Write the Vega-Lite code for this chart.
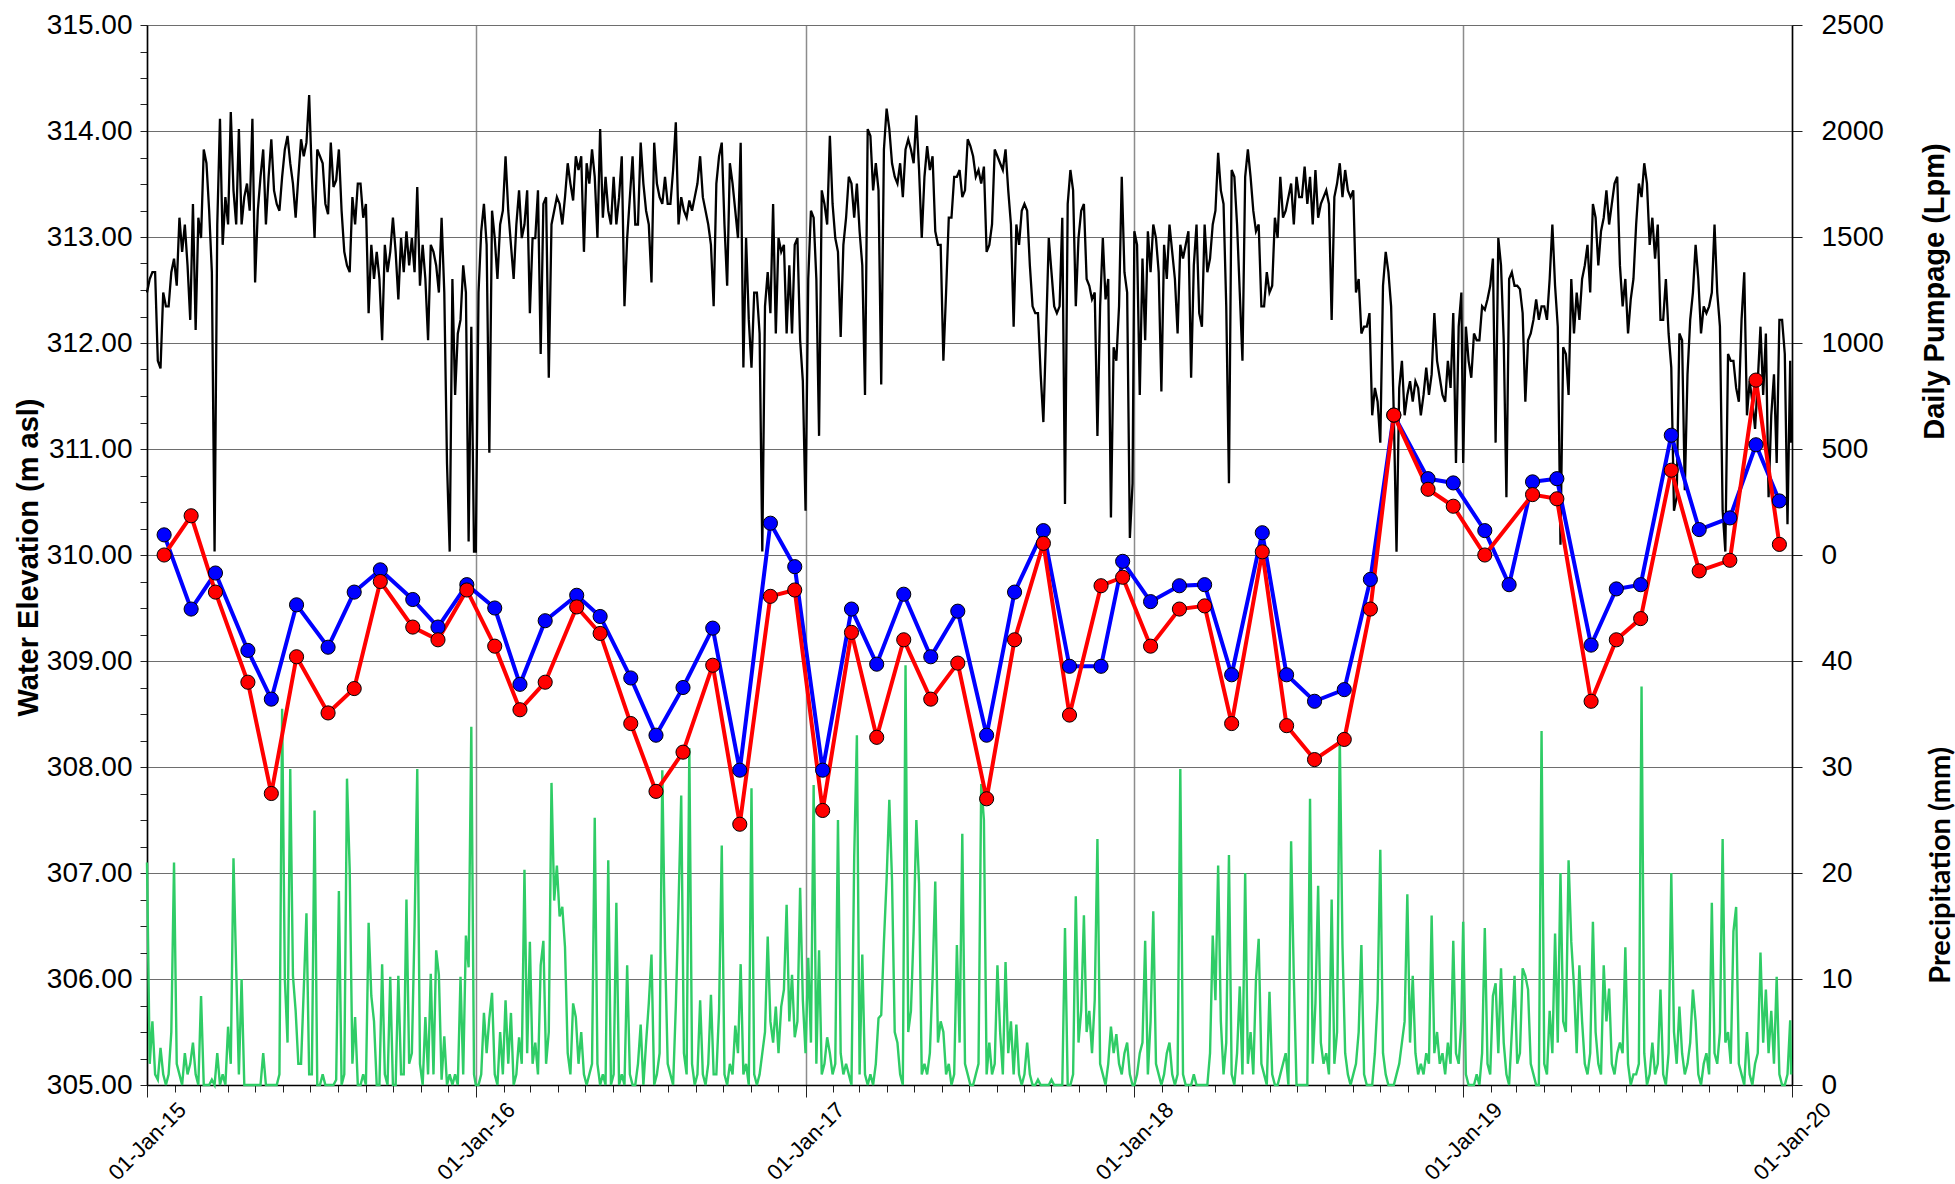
{
"$schema":"https://vega.github.io/schema/vega-lite/v6.json",
"width":1645,"height":1060,
"autosize":{"type":"none"},
"padding":{"left":147,"top":25,"right":163,"bottom":99},
"background":"white",
"config":{"view":{"stroke":null},"font":"Liberation Sans","axis":{"labelColor":"black","titleColor":"black","domainColor":"black","tickColor":"#222","labelFont":"Liberation Sans","titleFont":"Liberation Sans"}},
"data":{"values":[
{"t":"2015-1","p":1238,"r":21},{"t":"2015-4","p":1302,"r":2},{"t":"2015-7","p":1334,"r":6},{"t":"2015-10","p":1334,"r":1},{"t":"2015-13","p":916,"r":0.5},{"t":"2015-16","p":880,"r":3.5},{"t":"2015-19","p":1238,"r":1},{"t":"2015-22","p":1173,"r":0},{"t":"2015-25","p":1173,"r":1},{"t":"2015-28","p":1334,"r":5},{"t":"2015-31","p":1398,"r":21},{"t":"2015-34","p":1270,"r":2},{"t":"2015-37","p":1591,"r":1},{"t":"2015-40","p":1430,"r":0},{"t":"2015-43","p":1559,"r":3},{"t":"2015-46","p":1366,"r":1},{"t":"2015-49","p":1109,"r":2},{"t":"2015-52","p":1656,"r":4},{"t":"2015-55","p":1061,"r":1},{"t":"2015-58","p":1591,"r":0},{"t":"2015-61","p":1495,"r":8.4},{"t":"2015-64","p":1913,"r":0},{"t":"2015-67","p":1848,"r":0},{"t":"2015-70","p":1624,"r":0},{"t":"2015-73","p":1334,"r":0.5},{"t":"2015-76","p":16,"r":0},{"t":"2015-79","p":1559,"r":3},{"t":"2015-82","p":2058,"r":0},{"t":"2015-85","p":1463,"r":1},{"t":"2015-88","p":1688,"r":0},{"t":"2015-91","p":1559,"r":5.5},{"t":"2015-94","p":2090,"r":2},{"t":"2015-97","p":1720,"r":21.4},{"t":"2015-100","p":1559,"r":11},{"t":"2015-103","p":2009,"r":1},{"t":"2015-106","p":1559,"r":10},{"t":"2015-109","p":1688,"r":0},{"t":"2015-112","p":1752,"r":0},{"t":"2015-115","p":1624,"r":0},{"t":"2015-118","p":2058,"r":0},{"t":"2015-121","p":1286,"r":0},{"t":"2015-124","p":1624,"r":0},{"t":"2015-127","p":1784,"r":0},{"t":"2015-130","p":1913,"r":3},{"t":"2015-133","p":1559,"r":0},{"t":"2015-136","p":1784,"r":0},{"t":"2015-139","p":1961,"r":0},{"t":"2015-142","p":1720,"r":0},{"t":"2015-145","p":1656,"r":0},{"t":"2015-148","p":1624,"r":1},{"t":"2015-151","p":1784,"r":35.5},{"t":"2015-154","p":1913,"r":10},{"t":"2015-157","p":1977,"r":4},{"t":"2015-160","p":1848,"r":29.8},{"t":"2015-163","p":1752,"r":10.3},{"t":"2015-166","p":1591,"r":7},{"t":"2015-169","p":1784,"r":2},{"t":"2015-172","p":1961,"r":2},{"t":"2015-175","p":1881,"r":9},{"t":"2015-178","p":1945,"r":16.2},{"t":"2015-181","p":2170,"r":1},{"t":"2015-184","p":1784,"r":1},{"t":"2015-187","p":1495,"r":25.9},{"t":"2015-190","p":1913,"r":0},{"t":"2015-193","p":1881,"r":0},{"t":"2015-196","p":1848,"r":1},{"t":"2015-199","p":1656,"r":0},{"t":"2015-202","p":1607,"r":0},{"t":"2015-205","p":1945,"r":0},{"t":"2015-208","p":1736,"r":0},{"t":"2015-211","p":1768,"r":0.5},{"t":"2015-214","p":1913,"r":18.3},{"t":"2015-217","p":1624,"r":0},{"t":"2015-220","p":1430,"r":1},{"t":"2015-223","p":1366,"r":28.9},{"t":"2015-226","p":1334,"r":20.3},{"t":"2015-229","p":1688,"r":2},{"t":"2015-232","p":1559,"r":6.4},{"t":"2015-235","p":1752,"r":0},{"t":"2015-238","p":1752,"r":0},{"t":"2015-241","p":1591,"r":1},{"t":"2015-244","p":1656,"r":0},{"t":"2015-247","p":1141,"r":15.3},{"t":"2015-250","p":1463,"r":8.4},{"t":"2015-253","p":1302,"r":6},{"t":"2015-256","p":1430,"r":0},{"t":"2015-259","p":1302,"r":0},{"t":"2015-262","p":1013,"r":11.4},{"t":"2015-265","p":1463,"r":1},{"t":"2015-268","p":1334,"r":0},{"t":"2015-271","p":1430,"r":10.2},{"t":"2015-274","p":1591,"r":0},{"t":"2015-277","p":1430,"r":0},{"t":"2015-280","p":1206,"r":10.3},{"t":"2015-283","p":1495,"r":1},{"t":"2015-286","p":1334,"r":1},{"t":"2015-289","p":1527,"r":17.5},{"t":"2015-292","p":1366,"r":2},{"t":"2015-295","p":1495,"r":3},{"t":"2015-298","p":1334,"r":14.9},{"t":"2015-301","p":1736,"r":29.8},{"t":"2015-304","p":1270,"r":2},{"t":"2015-307","p":1463,"r":0},{"t":"2015-310","p":1302,"r":6.4},{"t":"2015-313","p":1013,"r":1},{"t":"2015-316","p":1463,"r":10.5},{"t":"2015-319","p":1430,"r":1},{"t":"2015-322","p":1366,"r":12.7},{"t":"2015-325","p":1238,"r":10.4},{"t":"2015-328","p":1591,"r":0.5},{"t":"2015-331","p":1238,"r":4.6},{"t":"2015-334","p":434,"r":0},{"t":"2015-337","p":16,"r":1},{"t":"2015-340","p":1302,"r":0},{"t":"2015-343","p":755,"r":1},{"t":"2015-346","p":1045,"r":0},{"t":"2015-349","p":1109,"r":10.2},{"t":"2015-352","p":1366,"r":1},{"t":"2015-355","p":1238,"r":14.1},{"t":"2015-358","p":64,"r":11.1},{"t":"2015-361","p":1077,"r":33.8},{"t":"2015-364","p":16,"r":1},
{"t":"2016-1","p":16,"r":0},{"t":"2016-4","p":1238,"r":0},{"t":"2016-7","p":1527,"r":1},{"t":"2016-10","p":1656,"r":6.8},{"t":"2016-13","p":1463,"r":3},{"t":"2016-16","p":482,"r":6.3},{"t":"2016-19","p":1624,"r":8.7},{"t":"2016-22","p":1495,"r":1},{"t":"2016-25","p":1302,"r":0},{"t":"2016-28","p":1559,"r":5},{"t":"2016-31","p":1624,"r":1},{"t":"2016-34","p":1881,"r":8},{"t":"2016-37","p":1624,"r":2},{"t":"2016-40","p":1463,"r":6.8},{"t":"2016-43","p":1302,"r":0},{"t":"2016-46","p":1559,"r":1},{"t":"2016-49","p":1720,"r":4.5},{"t":"2016-52","p":1495,"r":2},{"t":"2016-55","p":1559,"r":20.3},{"t":"2016-58","p":1720,"r":3},{"t":"2016-61","p":1141,"r":13.5},{"t":"2016-64","p":1495,"r":2},{"t":"2016-67","p":1495,"r":4},{"t":"2016-70","p":1720,"r":1},{"t":"2016-73","p":948,"r":11.3},{"t":"2016-76","p":1656,"r":13.6},{"t":"2016-79","p":1688,"r":2},{"t":"2016-82","p":836,"r":5},{"t":"2016-85","p":1559,"r":28.5},{"t":"2016-88","p":1624,"r":17.4},{"t":"2016-91","p":1688,"r":20.7},{"t":"2016-94","p":1656,"r":15.9},{"t":"2016-97","p":1559,"r":16.8},{"t":"2016-100","p":1688,"r":13},{"t":"2016-103","p":1848,"r":3},{"t":"2016-106","p":1752,"r":1},{"t":"2016-109","p":1672,"r":7.7},{"t":"2016-112","p":1881,"r":6.4},{"t":"2016-115","p":1816,"r":2},{"t":"2016-118","p":1881,"r":5},{"t":"2016-121","p":1430,"r":1},{"t":"2016-124","p":1848,"r":0},{"t":"2016-127","p":1752,"r":1},{"t":"2016-130","p":1913,"r":2},{"t":"2016-133","p":1784,"r":25.2},{"t":"2016-136","p":1495,"r":2},{"t":"2016-139","p":2009,"r":0},{"t":"2016-142","p":1591,"r":1},{"t":"2016-145","p":1784,"r":0},{"t":"2016-148","p":1624,"r":21.2},{"t":"2016-151","p":1559,"r":0},{"t":"2016-154","p":1784,"r":1},{"t":"2016-157","p":1559,"r":17.2},{"t":"2016-160","p":1688,"r":0},{"t":"2016-163","p":1881,"r":1},{"t":"2016-166","p":1173,"r":0},{"t":"2016-169","p":1495,"r":11.3},{"t":"2016-172","p":1688,"r":1},{"t":"2016-175","p":1881,"r":0},{"t":"2016-178","p":1559,"r":0},{"t":"2016-181","p":1559,"r":2},{"t":"2016-184","p":1945,"r":5.7},{"t":"2016-187","p":1752,"r":0},{"t":"2016-190","p":1624,"r":4},{"t":"2016-193","p":1559,"r":7.7},{"t":"2016-196","p":1286,"r":12.3},{"t":"2016-199","p":1945,"r":0},{"t":"2016-202","p":1752,"r":1},{"t":"2016-205","p":1688,"r":3},{"t":"2016-208","p":1656,"r":29.7},{"t":"2016-211","p":1784,"r":12.9},{"t":"2016-214","p":1656,"r":2},{"t":"2016-217","p":1656,"r":1},{"t":"2016-220","p":1816,"r":0},{"t":"2016-223","p":2041,"r":7.4},{"t":"2016-226","p":1559,"r":17},{"t":"2016-229","p":1688,"r":27.3},{"t":"2016-232","p":1624,"r":3},{"t":"2016-235","p":1591,"r":1},{"t":"2016-238","p":1672,"r":31.8},{"t":"2016-241","p":1624,"r":2},{"t":"2016-244","p":1688,"r":0},{"t":"2016-247","p":1752,"r":1},{"t":"2016-250","p":1881,"r":8},{"t":"2016-253","p":1688,"r":1},{"t":"2016-256","p":1624,"r":0},{"t":"2016-259","p":1559,"r":2},{"t":"2016-262","p":1463,"r":8.5},{"t":"2016-265","p":1173,"r":1},{"t":"2016-268","p":1752,"r":1},{"t":"2016-271","p":1881,"r":7},{"t":"2016-274","p":1945,"r":22.6},{"t":"2016-277","p":1559,"r":1},{"t":"2016-280","p":1270,"r":0},{"t":"2016-283","p":1848,"r":2},{"t":"2016-286","p":1752,"r":1},{"t":"2016-289","p":1624,"r":5.6},{"t":"2016-292","p":1495,"r":3},{"t":"2016-295","p":1945,"r":11.4},{"t":"2016-298","p":884,"r":1},{"t":"2016-301","p":1495,"r":2},{"t":"2016-304","p":1109,"r":0},{"t":"2016-307","p":884,"r":28},{"t":"2016-310","p":1238,"r":1},{"t":"2016-313","p":1238,"r":0},{"t":"2016-316","p":1045,"r":1},{"t":"2016-319","p":16,"r":3},{"t":"2016-322","p":1173,"r":5},{"t":"2016-325","p":1334,"r":14},{"t":"2016-328","p":1141,"r":6},{"t":"2016-331","p":1656,"r":4},{"t":"2016-334","p":1045,"r":7.4},{"t":"2016-337","p":1495,"r":3},{"t":"2016-340","p":1430,"r":7.4},{"t":"2016-343","p":1463,"r":9},{"t":"2016-346","p":1045,"r":17},{"t":"2016-349","p":1366,"r":6},{"t":"2016-352","p":1045,"r":10.4},{"t":"2016-355","p":1463,"r":4.5},{"t":"2016-358","p":1495,"r":6},{"t":"2016-361","p":1013,"r":18.6},{"t":"2016-364","p":820,"r":8},
{"t":"2017-1","p":209,"r":3},{"t":"2017-4","p":1302,"r":12},{"t":"2017-7","p":1624,"r":4},{"t":"2017-10","p":1591,"r":28.3},{"t":"2017-13","p":1302,"r":2},{"t":"2017-16","p":562,"r":12.7},{"t":"2017-19","p":1720,"r":1},{"t":"2017-22","p":1656,"r":2},{"t":"2017-25","p":1559,"r":4.5},{"t":"2017-28","p":1977,"r":3},{"t":"2017-31","p":1656,"r":1},{"t":"2017-34","p":1495,"r":2},{"t":"2017-37","p":1430,"r":25},{"t":"2017-40","p":1029,"r":3},{"t":"2017-43","p":1463,"r":1},{"t":"2017-46","p":1591,"r":2},{"t":"2017-49","p":1784,"r":1},{"t":"2017-52","p":1752,"r":0},{"t":"2017-55","p":1591,"r":21.4},{"t":"2017-58","p":1752,"r":33},{"t":"2017-61","p":1527,"r":1},{"t":"2017-64","p":1366,"r":12.3},{"t":"2017-67","p":755,"r":1},{"t":"2017-70","p":2009,"r":0},{"t":"2017-73","p":1977,"r":1},{"t":"2017-76","p":1720,"r":0},{"t":"2017-79","p":1848,"r":2},{"t":"2017-82","p":1720,"r":6.3},{"t":"2017-85","p":804,"r":6.6},{"t":"2017-88","p":1913,"r":13.5},{"t":"2017-91","p":2106,"r":19.4},{"t":"2017-94","p":2009,"r":26.9},{"t":"2017-97","p":1848,"r":19.3},{"t":"2017-100","p":1784,"r":5},{"t":"2017-103","p":1752,"r":4},{"t":"2017-106","p":1848,"r":1},{"t":"2017-109","p":1688,"r":0},{"t":"2017-112","p":1913,"r":39.6},{"t":"2017-115","p":1961,"r":5},{"t":"2017-118","p":1913,"r":7},{"t":"2017-121","p":1848,"r":14.5},{"t":"2017-124","p":2074,"r":25},{"t":"2017-127","p":1816,"r":19},{"t":"2017-130","p":1495,"r":1},{"t":"2017-133","p":1784,"r":2},{"t":"2017-136","p":1929,"r":1},{"t":"2017-139","p":1816,"r":3},{"t":"2017-142","p":1881,"r":10},{"t":"2017-145","p":1527,"r":19.2},{"t":"2017-148","p":1463,"r":4},{"t":"2017-151","p":1463,"r":6},{"t":"2017-154","p":916,"r":5},{"t":"2017-157","p":1238,"r":1},{"t":"2017-160","p":1591,"r":2},{"t":"2017-163","p":1591,"r":0},{"t":"2017-166","p":1784,"r":1},{"t":"2017-169","p":1784,"r":13.2},{"t":"2017-172","p":1816,"r":4},{"t":"2017-175","p":1688,"r":23.7},{"t":"2017-178","p":1720,"r":2},{"t":"2017-181","p":1961,"r":1},{"t":"2017-184","p":1929,"r":0},{"t":"2017-187","p":1881,"r":0},{"t":"2017-190","p":1784,"r":1},{"t":"2017-193","p":1816,"r":2},{"t":"2017-196","p":1752,"r":28.4},{"t":"2017-199","p":1832,"r":25},{"t":"2017-202","p":1430,"r":1},{"t":"2017-205","p":1463,"r":4},{"t":"2017-208","p":1559,"r":1},{"t":"2017-211","p":1913,"r":2},{"t":"2017-214","p":1881,"r":11.3},{"t":"2017-217","p":1848,"r":5},{"t":"2017-220","p":1816,"r":1},{"t":"2017-223","p":1913,"r":11.6},{"t":"2017-226","p":1720,"r":3},{"t":"2017-229","p":1559,"r":6},{"t":"2017-232","p":1077,"r":1},{"t":"2017-235","p":1559,"r":5.7},{"t":"2017-238","p":1463,"r":1},{"t":"2017-241","p":1624,"r":0},{"t":"2017-244","p":1656,"r":1},{"t":"2017-247","p":1624,"r":4},{"t":"2017-250","p":1366,"r":1},{"t":"2017-253","p":1173,"r":0},{"t":"2017-256","p":1141,"r":0},{"t":"2017-259","p":1141,"r":0.5},{"t":"2017-262","p":852,"r":0},{"t":"2017-265","p":627,"r":0},{"t":"2017-268","p":1045,"r":0},{"t":"2017-271","p":1495,"r":0},{"t":"2017-274","p":1334,"r":0.5},{"t":"2017-277","p":1173,"r":0},{"t":"2017-280","p":1141,"r":0},{"t":"2017-283","p":1173,"r":0},{"t":"2017-286","p":1591,"r":0},{"t":"2017-289","p":241,"r":14.8},{"t":"2017-292","p":1656,"r":0},{"t":"2017-295","p":1816,"r":0},{"t":"2017-298","p":1720,"r":1},{"t":"2017-301","p":1173,"r":17.8},{"t":"2017-304","p":1495,"r":4},{"t":"2017-307","p":1624,"r":7},{"t":"2017-310","p":1656,"r":16},{"t":"2017-313","p":1302,"r":5},{"t":"2017-316","p":1270,"r":7},{"t":"2017-319","p":1206,"r":3},{"t":"2017-322","p":1238,"r":8},{"t":"2017-325","p":562,"r":23.2},{"t":"2017-328","p":1173,"r":2},{"t":"2017-331","p":1495,"r":1},{"t":"2017-334","p":1206,"r":0},{"t":"2017-337","p":1302,"r":2},{"t":"2017-340","p":177,"r":5.5},{"t":"2017-343","p":980,"r":3},{"t":"2017-346","p":916,"r":4.8},{"t":"2017-349","p":1173,"r":2},{"t":"2017-352","p":1784,"r":1},{"t":"2017-355","p":1334,"r":3},{"t":"2017-358","p":1238,"r":4},{"t":"2017-361","p":80,"r":1},{"t":"2017-364","p":338,"r":0},
{"t":"2018-1","p":1527,"r":0},{"t":"2018-4","p":1463,"r":1},{"t":"2018-7","p":755,"r":3},{"t":"2018-10","p":1398,"r":4},{"t":"2018-13","p":1013,"r":13.6},{"t":"2018-16","p":1527,"r":1},{"t":"2018-19","p":1334,"r":6},{"t":"2018-22","p":1559,"r":16.4},{"t":"2018-25","p":1495,"r":2},{"t":"2018-28","p":1334,"r":1},{"t":"2018-31","p":771,"r":0},{"t":"2018-34","p":1463,"r":1},{"t":"2018-37","p":1302,"r":3},{"t":"2018-40","p":1559,"r":4},{"t":"2018-43","p":1430,"r":1},{"t":"2018-46","p":1302,"r":0},{"t":"2018-49","p":1045,"r":1},{"t":"2018-52","p":1463,"r":29.8},{"t":"2018-55","p":1398,"r":1},{"t":"2018-58","p":1463,"r":0},{"t":"2018-61","p":1527,"r":0},{"t":"2018-64","p":836,"r":0},{"t":"2018-67","p":1366,"r":1},{"t":"2018-70","p":1559,"r":0},{"t":"2018-73","p":1141,"r":0},{"t":"2018-76","p":1077,"r":0},{"t":"2018-79","p":1559,"r":0},{"t":"2018-82","p":1334,"r":0},{"t":"2018-85","p":1398,"r":3},{"t":"2018-88","p":1559,"r":14.1},{"t":"2018-91","p":1624,"r":8},{"t":"2018-94","p":1897,"r":20.7},{"t":"2018-97","p":1720,"r":6},{"t":"2018-100","p":1656,"r":1},{"t":"2018-103","p":1173,"r":4},{"t":"2018-106","p":338,"r":21.7},{"t":"2018-109","p":1816,"r":1},{"t":"2018-112","p":1784,"r":0},{"t":"2018-115","p":1559,"r":3},{"t":"2018-118","p":1238,"r":9.3},{"t":"2018-121","p":916,"r":1},{"t":"2018-124","p":1784,"r":20},{"t":"2018-127","p":1913,"r":2},{"t":"2018-130","p":1784,"r":5},{"t":"2018-133","p":1624,"r":1},{"t":"2018-136","p":1527,"r":10},{"t":"2018-139","p":1559,"r":13.8},{"t":"2018-142","p":1173,"r":2},{"t":"2018-145","p":1173,"r":1},{"t":"2018-148","p":1334,"r":0},{"t":"2018-151","p":1238,"r":8.8},{"t":"2018-154","p":1270,"r":1},{"t":"2018-157","p":1591,"r":0},{"t":"2018-160","p":1495,"r":0},{"t":"2018-163","p":1784,"r":1},{"t":"2018-166","p":1591,"r":2},{"t":"2018-169","p":1624,"r":3},{"t":"2018-172","p":1688,"r":0},{"t":"2018-175","p":1752,"r":23},{"t":"2018-178","p":1559,"r":10.2},{"t":"2018-181","p":1784,"r":0},{"t":"2018-184","p":1688,"r":0},{"t":"2018-187","p":1688,"r":0},{"t":"2018-190","p":1832,"r":0},{"t":"2018-193","p":1656,"r":0},{"t":"2018-196","p":1784,"r":27},{"t":"2018-199","p":1559,"r":2},{"t":"2018-202","p":1816,"r":7.7},{"t":"2018-205","p":1591,"r":18.8},{"t":"2018-208","p":1656,"r":4},{"t":"2018-211","p":1688,"r":2},{"t":"2018-214","p":1720,"r":3},{"t":"2018-217","p":1656,"r":1},{"t":"2018-220","p":1109,"r":17.5},{"t":"2018-223","p":1688,"r":2},{"t":"2018-226","p":1752,"r":5},{"t":"2018-229","p":1848,"r":33.1},{"t":"2018-232","p":1688,"r":13.2},{"t":"2018-235","p":1816,"r":3},{"t":"2018-238","p":1720,"r":1},{"t":"2018-241","p":1688,"r":0},{"t":"2018-244","p":1720,"r":1},{"t":"2018-247","p":1238,"r":2},{"t":"2018-250","p":1302,"r":5},{"t":"2018-253","p":1045,"r":13.2},{"t":"2018-256","p":1077,"r":1},{"t":"2018-259","p":1077,"r":0},{"t":"2018-262","p":1141,"r":0},{"t":"2018-265","p":659,"r":0},{"t":"2018-268","p":788,"r":3},{"t":"2018-271","p":723,"r":8},{"t":"2018-274","p":530,"r":22.2},{"t":"2018-277","p":1270,"r":3},{"t":"2018-280","p":1430,"r":1},{"t":"2018-283","p":1334,"r":0},{"t":"2018-286","p":1173,"r":0},{"t":"2018-289","p":659,"r":0},{"t":"2018-292","p":16,"r":1},{"t":"2018-295","p":788,"r":2},{"t":"2018-298","p":916,"r":4},{"t":"2018-301","p":659,"r":6},{"t":"2018-304","p":755,"r":18},{"t":"2018-307","p":820,"r":4},{"t":"2018-310","p":723,"r":10.3},{"t":"2018-313","p":820,"r":3},{"t":"2018-316","p":788,"r":1},{"t":"2018-319","p":659,"r":2},{"t":"2018-322","p":755,"r":1},{"t":"2018-325","p":884,"r":3},{"t":"2018-328","p":755,"r":2},{"t":"2018-331","p":852,"r":16},{"t":"2018-334","p":1141,"r":3},{"t":"2018-337","p":916,"r":5},{"t":"2018-340","p":836,"r":2},{"t":"2018-343","p":755,"r":3},{"t":"2018-346","p":723,"r":1},{"t":"2018-349","p":916,"r":4},{"t":"2018-352","p":788,"r":2},{"t":"2018-355","p":1141,"r":13.6},{"t":"2018-358","p":434,"r":3},{"t":"2018-361","p":1077,"r":2},{"t":"2018-364","p":1238,"r":6},
{"t":"2019-1","p":434,"r":15.4},{"t":"2019-4","p":1077,"r":1},{"t":"2019-7","p":916,"r":0},{"t":"2019-10","p":836,"r":0},{"t":"2019-13","p":1045,"r":0},{"t":"2019-16","p":1013,"r":1},{"t":"2019-19","p":1013,"r":0},{"t":"2019-22","p":1173,"r":3},{"t":"2019-25","p":1157,"r":14.8},{"t":"2019-28","p":1206,"r":2},{"t":"2019-31","p":1270,"r":1},{"t":"2019-34","p":1398,"r":8.4},{"t":"2019-37","p":530,"r":9.6},{"t":"2019-40","p":1495,"r":3},{"t":"2019-43","p":1366,"r":11},{"t":"2019-46","p":1013,"r":4},{"t":"2019-49","p":273,"r":1},{"t":"2019-52","p":1302,"r":0},{"t":"2019-55","p":1334,"r":5},{"t":"2019-58","p":1270,"r":10.3},{"t":"2019-61","p":1270,"r":2},{"t":"2019-64","p":1254,"r":3},{"t":"2019-67","p":1141,"r":11},{"t":"2019-70","p":723,"r":10.3},{"t":"2019-73","p":1013,"r":9},{"t":"2019-76","p":1045,"r":2},{"t":"2019-79","p":1109,"r":1},{"t":"2019-82","p":1206,"r":0},{"t":"2019-85","p":1109,"r":0},{"t":"2019-88","p":1173,"r":33.4},{"t":"2019-91","p":1173,"r":2},{"t":"2019-94","p":1109,"r":1},{"t":"2019-97","p":1302,"r":7},{"t":"2019-100","p":1559,"r":3},{"t":"2019-103","p":1270,"r":14.3},{"t":"2019-106","p":1077,"r":4},{"t":"2019-109","p":48,"r":20},{"t":"2019-112","p":980,"r":6},{"t":"2019-115","p":948,"r":5},{"t":"2019-118","p":755,"r":21.2},{"t":"2019-121","p":1302,"r":13.5},{"t":"2019-124","p":1045,"r":9.3},{"t":"2019-127","p":1238,"r":3},{"t":"2019-130","p":1109,"r":11.3},{"t":"2019-133","p":1302,"r":6},{"t":"2019-136","p":1366,"r":2},{"t":"2019-139","p":1463,"r":1},{"t":"2019-142","p":1238,"r":3},{"t":"2019-145","p":1656,"r":15.4},{"t":"2019-148","p":1591,"r":5},{"t":"2019-151","p":1366,"r":2},{"t":"2019-154","p":1527,"r":1},{"t":"2019-157","p":1591,"r":11.3},{"t":"2019-160","p":1720,"r":6},{"t":"2019-163","p":1559,"r":9.1},{"t":"2019-166","p":1656,"r":2},{"t":"2019-169","p":1752,"r":1},{"t":"2019-172","p":1784,"r":3},{"t":"2019-175","p":1366,"r":4},{"t":"2019-178","p":1173,"r":3},{"t":"2019-181","p":1302,"r":13},{"t":"2019-184","p":1045,"r":2},{"t":"2019-187","p":1206,"r":0},{"t":"2019-190","p":1302,"r":1},{"t":"2019-193","p":1559,"r":1},{"t":"2019-196","p":1752,"r":2},{"t":"2019-199","p":1688,"r":37.6},{"t":"2019-202","p":1848,"r":3},{"t":"2019-205","p":1752,"r":0},{"t":"2019-208","p":1463,"r":1},{"t":"2019-211","p":1591,"r":4},{"t":"2019-214","p":1398,"r":1},{"t":"2019-217","p":1559,"r":2},{"t":"2019-220","p":1109,"r":9},{"t":"2019-223","p":1109,"r":1},{"t":"2019-226","p":1302,"r":0},{"t":"2019-229","p":1045,"r":3},{"t":"2019-232","p":884,"r":20},{"t":"2019-235","p":209,"r":5},{"t":"2019-238","p":273,"r":2},{"t":"2019-241","p":1045,"r":7.4},{"t":"2019-244","p":1013,"r":3},{"t":"2019-247","p":305,"r":1},{"t":"2019-250","p":852,"r":2},{"t":"2019-253","p":1109,"r":4},{"t":"2019-256","p":1238,"r":9},{"t":"2019-259","p":1463,"r":6},{"t":"2019-262","p":1302,"r":1},{"t":"2019-265","p":1045,"r":0},{"t":"2019-268","p":1173,"r":2},{"t":"2019-271","p":1141,"r":3},{"t":"2019-274","p":1173,"r":1},{"t":"2019-277","p":1238,"r":17.2},{"t":"2019-280","p":1559,"r":3},{"t":"2019-283","p":1238,"r":2},{"t":"2019-286","p":1077,"r":5},{"t":"2019-289","p":209,"r":23.2},{"t":"2019-292","p":16,"r":4},{"t":"2019-295","p":948,"r":5},{"t":"2019-298","p":916,"r":2},{"t":"2019-301","p":916,"r":14.5},{"t":"2019-304","p":788,"r":16.8},{"t":"2019-307","p":723,"r":2},{"t":"2019-310","p":1109,"r":1},{"t":"2019-313","p":1334,"r":0},{"t":"2019-316","p":659,"r":5},{"t":"2019-319","p":820,"r":1},{"t":"2019-322","p":723,"r":0},{"t":"2019-325","p":595,"r":2},{"t":"2019-328","p":820,"r":3},{"t":"2019-331","p":1077,"r":12.5},{"t":"2019-334","p":755,"r":4},{"t":"2019-337","p":1045,"r":9},{"t":"2019-340","p":273,"r":3},{"t":"2019-343","p":659,"r":7},{"t":"2019-346","p":852,"r":2},{"t":"2019-349","p":434,"r":10.2},{"t":"2019-352","p":1109,"r":1},{"t":"2019-355","p":1109,"r":0},{"t":"2019-358","p":948,"r":0},{"t":"2019-361","p":145,"r":1},{"t":"2019-364","p":916,"r":6.1},{"t":"2019-365","p":530,"r":1}
],"format":{"parse":{"t":"utc:'%Y-%j'"}}},
"encoding":{
"x":{"field":"t","type":"temporal","scale":{"type":"utc","domain":[{"year":2015,"month":1,"date":1,"utc":true},{"year":2020,"month":1,"date":1,"utc":true}]},
"axis":{"title":null,"tickCount":{"interval":"month","step":1},"labelExpr":"utcmonth(datum.value) === 0 ? utcFormat(datum.value, '%d-%b-%y') : ''","labelAngle":-45,"labelAlign":"center","labelBaseline":"middle","labelPadding":44,"labelFontSize":22,"labelOverlap":false,"labelBound":false,"labelFlush":false,"tickSize":{"condition":{"test":"utcmonth(datum.value) === 0","value":12},"value":7},"domain":true,"domainWidth":1.5,"grid":true,"gridColor":"#8c8c8c","gridWidth":1.5,"gridOpacity":{"condition":{"test":"utcmonth(datum.value) === 0","value":1},"value":0}}}
},
"layer":[
{
"mark":{"type":"line","color":"#2fcc66","strokeWidth":2.4},
"encoding":{
"y":{"field":"r","type":"quantitative","scale":{"domain":[0,100],"nice":false,"zero":false},"axis":{"orient":"right","values":[0,10,20,30,40],"domain":false,"grid":false,"tickSize":10,"labelPadding":19,"labelFontSize":28,"title":"Precipitation (mm)","titleFont":"Lato","titleFontWeight":"bold","titleFontSize":29,"titleAngle":270,"titleX":148,"titleY":840,"titleBaseline":"middle","titleAlign":"center"}}
}
},
{
"mark":{"type":"line","color":"black","strokeWidth":2.3},
"encoding":{
"y":{"field":"p","type":"quantitative","scale":{"domain":[-2500,2500],"nice":false,"zero":false},"axis":{"orient":"right","values":[0,500,1000,1500,2000,2500],"format":"d","domain":true,"domainWidth":1.5,"grid":false,"tickSize":10,"labelPadding":19,"labelFontSize":28,"title":"Daily Pumpage (Lpm)","titleFontWeight":"bold","titleFontSize":29,"titleAngle":270,"titleX":142,"titleY":266,"titleBaseline":"middle","titleAlign":"center"}}
}
},
{
"data":{"values":[
{"t":"2015-20","s":"B","e":310.19},{"t":"2015-50","s":"B","e":309.49},{"t":"2015-77","s":"B","e":309.83},{"t":"2015-113","s":"B","e":309.1},{"t":"2015-139","s":"B","e":308.64},{"t":"2015-167","s":"B","e":309.53},{"t":"2015-202","s":"B","e":309.13},{"t":"2015-231","s":"B","e":309.65},{"t":"2015-260","s":"B","e":309.86},{"t":"2015-296","s":"B","e":309.58},{"t":"2015-324","s":"B","e":309.32},{"t":"2015-356","s":"B","e":309.72},
{"t":"2016-22","s":"B","e":309.5},{"t":"2016-50","s":"B","e":308.78},{"t":"2016-78","s":"B","e":309.38},{"t":"2016-113","s":"B","e":309.62},{"t":"2016-139","s":"B","e":309.42},{"t":"2016-173","s":"B","e":308.84},{"t":"2016-201","s":"B","e":308.3},{"t":"2016-231","s":"B","e":308.75},{"t":"2016-264","s":"B","e":309.31},{"t":"2016-294","s":"B","e":307.97},{"t":"2016-328","s":"B","e":310.3},{"t":"2016-355","s":"B","e":309.89},
{"t":"2017-20","s":"B","e":307.97},{"t":"2017-52","s":"B","e":309.49},{"t":"2017-80","s":"B","e":308.97},{"t":"2017-110","s":"B","e":309.63},{"t":"2017-140","s":"B","e":309.04},{"t":"2017-170","s":"B","e":309.47},{"t":"2017-202","s":"B","e":308.3},{"t":"2017-233","s":"B","e":309.65},{"t":"2017-265","s":"B","e":310.23},{"t":"2017-294","s":"B","e":308.95},{"t":"2017-329","s":"B","e":308.95},{"t":"2017-353","s":"B","e":309.94},
{"t":"2018-19","s":"B","e":309.56},{"t":"2018-51","s":"B","e":309.71},{"t":"2018-79","s":"B","e":309.72},{"t":"2018-109","s":"B","e":308.87},{"t":"2018-143","s":"B","e":310.21},{"t":"2018-170","s":"B","e":308.87},{"t":"2018-201","s":"B","e":308.62},{"t":"2018-234","s":"B","e":308.73},{"t":"2018-263","s":"B","e":309.77},{"t":"2018-289","s":"B","e":311.32},{"t":"2018-327","s":"B","e":310.72},{"t":"2018-355","s":"B","e":310.68},
{"t":"2019-25","s":"B","e":310.23},{"t":"2019-52","s":"B","e":309.72},{"t":"2019-78","s":"B","e":310.69},{"t":"2019-105","s":"B","e":310.72},{"t":"2019-143","s":"B","e":309.15},{"t":"2019-171","s":"B","e":309.68},{"t":"2019-198","s":"B","e":309.72},{"t":"2019-232","s":"B","e":311.13},{"t":"2019-263","s":"B","e":310.24},{"t":"2019-297","s":"B","e":310.35},{"t":"2019-326","s":"B","e":311.04},{"t":"2019-352","s":"B","e":310.51},
{"t":"2015-20","s":"R","e":310.0},{"t":"2015-50","s":"R","e":310.37},{"t":"2015-77","s":"R","e":309.65},{"t":"2015-113","s":"R","e":308.8},{"t":"2015-139","s":"R","e":307.75},{"t":"2015-167","s":"R","e":309.04},{"t":"2015-202","s":"R","e":308.51},{"t":"2015-231","s":"R","e":308.74},{"t":"2015-260","s":"R","e":309.75},{"t":"2015-296","s":"R","e":309.32},{"t":"2015-324","s":"R","e":309.2},{"t":"2015-356","s":"R","e":309.67},
{"t":"2016-22","s":"R","e":309.14},{"t":"2016-50","s":"R","e":308.54},{"t":"2016-78","s":"R","e":308.8},{"t":"2016-113","s":"R","e":309.51},{"t":"2016-139","s":"R","e":309.26},{"t":"2016-173","s":"R","e":308.41},{"t":"2016-201","s":"R","e":307.77},{"t":"2016-231","s":"R","e":308.14},{"t":"2016-264","s":"R","e":308.96},{"t":"2016-294","s":"R","e":307.46},{"t":"2016-328","s":"R","e":309.61},{"t":"2016-355","s":"R","e":309.67},
{"t":"2017-20","s":"R","e":307.59},{"t":"2017-52","s":"R","e":309.27},{"t":"2017-80","s":"R","e":308.28},{"t":"2017-110","s":"R","e":309.2},{"t":"2017-140","s":"R","e":308.64},{"t":"2017-170","s":"R","e":308.98},{"t":"2017-202","s":"R","e":307.7},{"t":"2017-233","s":"R","e":309.2},{"t":"2017-265","s":"R","e":310.11},{"t":"2017-294","s":"R","e":308.49},{"t":"2017-329","s":"R","e":309.71},{"t":"2017-353","s":"R","e":309.79},
{"t":"2018-19","s":"R","e":309.14},{"t":"2018-51","s":"R","e":309.49},{"t":"2018-79","s":"R","e":309.52},{"t":"2018-109","s":"R","e":308.41},{"t":"2018-143","s":"R","e":310.03},{"t":"2018-170","s":"R","e":308.39},{"t":"2018-201","s":"R","e":308.07},{"t":"2018-234","s":"R","e":308.26},{"t":"2018-263","s":"R","e":309.49},{"t":"2018-289","s":"R","e":311.32},{"t":"2018-327","s":"R","e":310.62},{"t":"2018-355","s":"R","e":310.46},
{"t":"2019-25","s":"R","e":310.0},{"t":"2019-78","s":"R","e":310.57},{"t":"2019-105","s":"R","e":310.53},{"t":"2019-143","s":"R","e":308.62},{"t":"2019-171","s":"R","e":309.2},{"t":"2019-198","s":"R","e":309.4},{"t":"2019-232","s":"R","e":310.8},{"t":"2019-263","s":"R","e":309.85},{"t":"2019-297","s":"R","e":309.95},{"t":"2019-326","s":"R","e":311.65},{"t":"2019-352","s":"R","e":310.1}
],"format":{"parse":{"t":"utc:'%Y-%j'"}}},
"encoding":{
"y":{"field":"e","type":"quantitative","scale":{"domain":[305,315],"nice":false,"zero":false},
"axis":{"orient":"left","values":[305,305.25,305.5,305.75,306,306.25,306.5,306.75,307,307.25,307.5,307.75,308,308.25,308.5,308.75,309,309.25,309.5,309.75,310,310.25,310.5,310.75,311,311.25,311.5,311.75,312,312.25,312.5,312.75,313,313.25,313.5,313.75,314,314.25,314.5,314.75,315],"labelExpr":"datum.value % 1 === 0 ? format(datum.value, '.2f') : ''","labelOverlap":false,"tickSize":7,"labelPadding":8,"labelFontSize":28,"domain":true,"domainWidth":1.5,"grid":true,"gridColor":"#6e6e6e","gridWidth":1,"gridOpacity":{"condition":{"test":"datum.value % 1 === 0","value":1},"value":0},"title":"Water Elevation (m asl)","titleFontWeight":"bold","titleFontSize":29,"titleAngle":270,"titleX":-119,"titleY":532,"titleBaseline":"middle","titleAlign":"center"}},
"color":{"field":"s","type":"nominal","scale":{"domain":["B","R"],"range":["#0000ff","#ff0000"]},"legend":null}
},
"layer":[
{"mark":{"type":"line","strokeWidth":4}},
{"mark":{"type":"circle","size":200,"stroke":"black","strokeWidth":1,"opacity":1}}
]
}
],
"resolve":{"scale":{"y":"independent"}}
}
